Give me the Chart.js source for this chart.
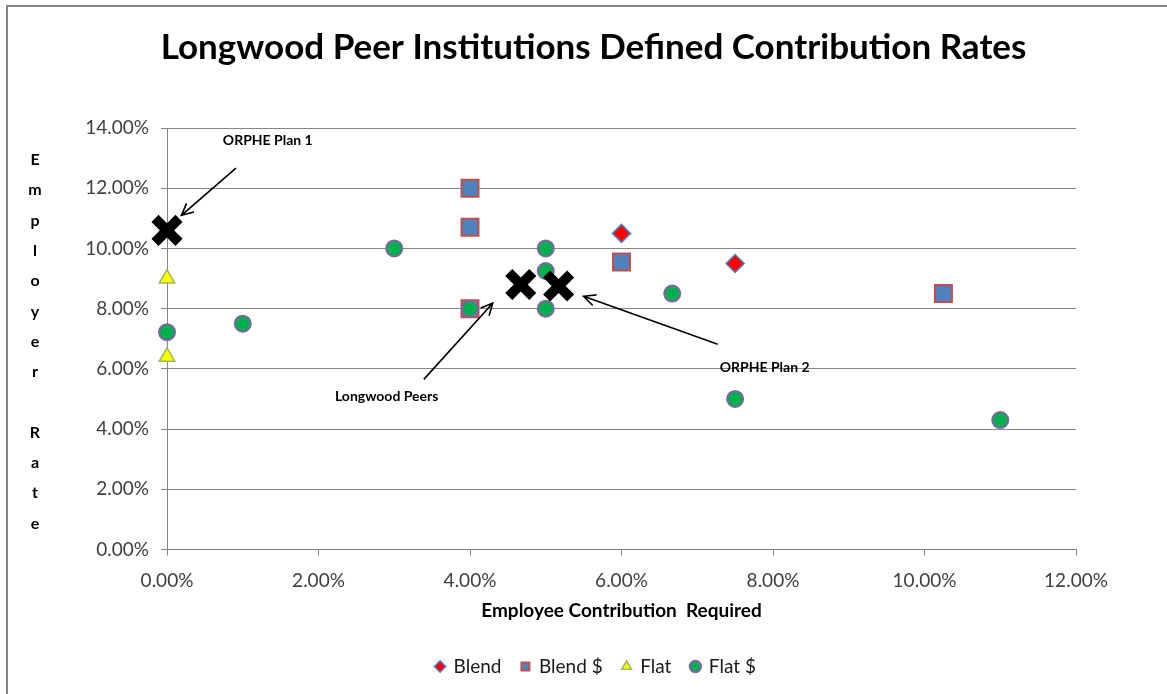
<!DOCTYPE html>
<html>
<head>
<meta charset="utf-8">
<title>Longwood Peer Institutions Defined Contribution Rates</title>
<script src="https://cdn.jsdelivr.net/npm/chart.js@4.4.0/dist/chart.umd.min.js"></script>
<style>
  html, body { margin: 0; padding: 0; background: #fff; }
  #wrap { position: relative; width: 1167px; height: 694px; overflow: hidden; }
  #frame { position: absolute; left: 6px; top: 5px; width: 1220px; height: 740px; border: 2px solid #868686; }
  #myChart { position: absolute; left: 0; top: 0; }
</style>
</head>
<body>
<div id="wrap">
  <div id="frame"></div>
  <canvas id="myChart" width="1167" height="694"></canvas>
</div>
<script>
"use strict"

// employee contribution (x) vs employer rate (y), both in percent
let blendX = [6, 7.5];
let blendY = [10.5, 9.5];
let blendDollarX = [4, 4, 4, 6, 10.25];
let blendDollarY = [12, 10.7, 8, 9.55, 8.5];
let flatX = [0, 0];
let flatY = [9, 6.4];
let flatDollarX = [0, 1, 3, 4, 5, 5, 5, 6.67, 7.5, 11];
let flatDollarY = [7.22, 7.5, 10, 8, 10, 9.25, 8, 8.5, 5, 4.3];
let planX = [0, 4.67, 5.17]; // ORPHE plans + Longwood peers
let planY = [10.6, 8.8, 8.75];

let xTicks = [0, 2, 4, 6, 8, 10, 12];
let yTicks = [0, 2, 4, 6, 8, 10, 12, 14];

let chartTitle = 'Longwood Peer Institutions Defined Contribution Rates';

// callouts, in axis units: label spot and arrow from -> to
const notes = [
    { text: 'ORPHE Plan 1', x: 1.33, y: 13.57, fromX: 0.91, fromY: 12.67, toX: 0.19, toY: 11.1 },
    { text: 'Longwood Peers', x: 2.9, y: 5.09, fromX: 3.39, fromY: 5.65, toX: 4.3, toY: 8.18 },
    { text: 'ORPHE Plan 2', x: 7.89, y: 6.05, fromX: 7.27, fromY: 6.82, toX: 5.5, toY: 8.41 },
];

const FONT = 'Lato, "Open Sans", sans-serif';

function toPoints(xs, ys) {
    let pts = [];
    for (let i = 0; i < xs.length; i++) {
        pts.push({ x: xs[i], y: ys[i] });
    }
    return pts;
}

const calloutPlugin = {
    id: 'callouts',
    afterDatasetsDraw(chart) {
        const ctx = chart.ctx;
        const sx = chart.scales.x;
        const sy = chart.scales.y;
        ctx.save();
        ctx.strokeStyle = '#000';
        ctx.fillStyle = '#000';
        ctx.lineWidth = 1.6;
        ctx.font = 'bold 14px ' + FONT;
        ctx.textAlign = 'center';
        ctx.textBaseline = 'middle';
        notes.forEach(function (n) {
            ctx.fillText(n.text, sx.getPixelForValue(n.x), sy.getPixelForValue(n.y));
            let x1 = sx.getPixelForValue(n.fromX), y1 = sy.getPixelForValue(n.fromY);
            let x2 = sx.getPixelForValue(n.toX), y2 = sy.getPixelForValue(n.toY);
            let ang = Math.atan2(y2 - y1, x2 - x1);
            let head = 13;
            ctx.beginPath();
            ctx.moveTo(x1, y1);
            ctx.lineTo(x2, y2);
            ctx.moveTo(x2 - head * Math.cos(ang - 0.45), y2 - head * Math.sin(ang - 0.45));
            ctx.lineTo(x2, y2);
            ctx.lineTo(x2 - head * Math.cos(ang + 0.45), y2 - head * Math.sin(ang + 0.45));
            ctx.stroke();
        });
        ctx.restore();
    }
};

// big title across the whole frame, plus the one-letter-per-line y title
const titlesPlugin = {
    id: 'titles',
    afterLayout(chart) {
        // centre the legend row on the frame rather than on the plot
        chart.legend.left = 116;
    },
    afterDraw(chart) {
        const ctx = chart.ctx;
        const area = chart.chartArea;
        ctx.save();
        ctx.fillStyle = '#000';
        ctx.textAlign = 'center';
        ctx.textBaseline = 'middle';
        ctx.font = 'bold 35px ' + FONT;
        ctx.fillText(chartTitle, chart.width / 2 + 10, 48);

        const letters = 'Employer Rate'.split('');
        const step = 30.3;
        let y0 = (area.top + area.bottom) / 2 + 3 - step * (letters.length - 1) / 2;
        ctx.font = 'bold 16px ' + FONT;
        letters.forEach(function (ch, i) {
            ctx.fillText(ch, 35, y0 + i * step);
        });
        ctx.restore();
    }
};

const data = {
    datasets: [
        {
            label: 'Longwood',
            data: toPoints(planX, planY),
            pointStyle: 'crossRot',
            pointRadius: 17,
            borderColor: '#000',
            backgroundColor: '#000',
            pointBorderWidth: 10,
            clip: false,
            order: 0
        },
        {
            label: 'Flat $',
            data: toPoints(flatDollarX, flatDollarY),
            pointStyle: 'circle',
            pointRadius: 8,
            backgroundColor: '#00B050',
            borderColor: '#8064A2',
            pointBorderWidth: 2,
            clip: false,
            order: 1
        },
        {
            label: 'Flat',
            data: toPoints(flatX, flatY),
            pointStyle: 'triangle',
            pointRadius: 9,
            backgroundColor: '#FFFF00',
            borderColor: '#9BBB59',
            pointBorderWidth: 1.5,
            clip: false,
            order: 2
        },
        {
            label: 'Blend $',
            data: toPoints(blendDollarX, blendDollarY),
            pointStyle: 'rect',
            pointRadius: 12,
            backgroundColor: '#4F81BD',
            borderColor: '#C0504D',
            pointBorderWidth: 2,
            clip: false,
            order: 3
        },
        {
            label: 'Blend',
            data: toPoints(blendX, blendY),
            pointStyle: 'rectRot',
            pointRadius: 9,
            backgroundColor: '#FF0000',
            borderColor: '#4F81BD',
            pointBorderWidth: 1.5,
            clip: false,
            order: 4
        }
    ]
};

const config = {
    type: 'scatter',
    data: data,
    options: {
        responsive: false,
        animation: false,
        layout: { padding: { left: 0, right: 91, top: 128, bottom: 8 } },
        plugins: {
            title: { display: false },
            legend: {
                position: 'bottom',
                reverse: true,
                labels: {
                    usePointStyle: true,
                    boxHeight: 8,
                    boxWidth: 8,
                    padding: 20,
                    color: '#1a1a1a',
                    font: { family: FONT, size: 19 },
                    filter: function (item) { return item.text !== 'Longwood'; }
                }
            },
            tooltip: { enabled: false }
        },
        scales: {
            x: {
                type: 'linear',
                min: 0,
                max: 12,
                afterBuildTicks: function (axis) {
                    axis.ticks = xTicks.map(function (v) { return { value: v }; });
                },
                border: { color: '#868686', width: 1 },
                grid: { drawOnChartArea: false, drawTicks: true, tickLength: 6, color: '#868686' },
                ticks: {
                    color: '#404040',
                    font: { family: FONT, size: 19, lineHeight: 1 },
                    padding: 16,
                    callback: function (v) { return v.toFixed(2) + '%'; }
                },
                title: {
                    display: true,
                    text: 'Employee Contribution  Required',
                    color: '#000',
                    font: { family: FONT, size: 19, weight: 'bold', lineHeight: 1 },
                    padding: { top: -5, bottom: 16.5 }
                }
            },
            y: {
                type: 'linear',
                min: 0,
                max: 14,
                afterBuildTicks: function (axis) {
                    axis.ticks = yTicks.map(function (v) { return { value: v }; });
                },
                afterFit: function (axis) { axis.width = 167; },
                border: { color: '#868686', width: 1 },
                grid: { color: '#868686', tickLength: 6 },
                ticks: {
                    color: '#404040',
                    font: { family: FONT, size: 19 },
                    padding: 12,
                    callback: function (v) { return v.toFixed(2) + '%'; }
                }
            }
        }
    },
    plugins: [calloutPlugin, titlesPlugin]
};

let canvasChart = document.getElementById('myChart');
const myChart = new Chart(canvasChart, config);
</script>
</body>
</html>
